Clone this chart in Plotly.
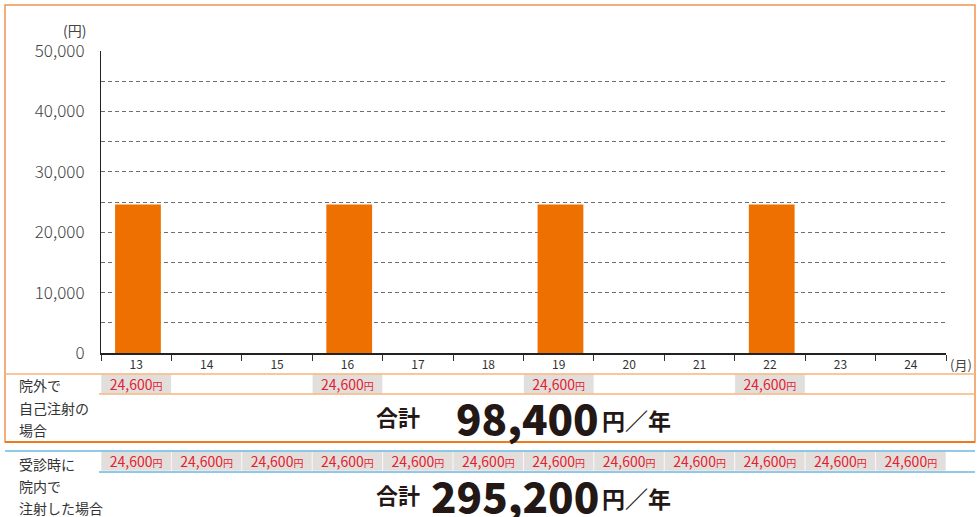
import plotly.graph_objects as go

W, H = 978, 517

# data
months = [str(m) for m in range(13, 25)]
self_inject = [24600, None, None, 24600, None, None, 24600, None, None, 24600, None, None]
clinic_inject = [24600] * 12
self_total = "98,400"
clinic_total = "295,200"

bar_values = [v if v else 0 for v in self_inject]

FONT = "Noto Sans CJK JP"
ORANGE = "#ee7000"
RED = "#e5202e"
GRAY_CELL = "#e2dedb"


def py(px):
    # pixel row from top -> paper y
    return 1 - px / H


def px_x(px):
    return px / W


def cell_text(v):
    if v is None:
        return ""
    return f"{v:,}<span style='font-size:10px'>円</span>"


fig = go.Figure()

fig.add_trace(go.Bar(
    x=months, y=bar_values, width=0.65, offset=-0.3,
    marker=dict(color=ORANGE, line=dict(width=0)),
    hoverinfo="skip", xaxis="x", yaxis="y",
))

# price rows, drawn as full-width cells on their own y axes
for vals, ax in [(self_inject, "y2"), (clinic_inject, "y3")]:
    fig.add_trace(go.Bar(
        x=months, y=[1 if v else None for v in vals], width=1.0,
        marker=dict(color=GRAY_CELL, line=dict(width=0.6, color="white")),
        text=[cell_text(v) for v in vals],
        textposition="inside", insidetextanchor="middle",
        textfont=dict(color=RED, size=14, family=FONT),
        constraintext="none", cliponaxis=False,
        hoverinfo="skip", xaxis="x", yaxis=ax,
    ))

fig.update_layout(
    template="none",
    width=W, height=H, autosize=False,
    margin=dict(l=0, r=0, t=0, b=0, pad=0, autoexpand=False),
    paper_bgcolor="white", plot_bgcolor="white",
    showlegend=False, barmode="overlay",
    font=dict(family=FONT, color="#333333"),
    xaxis=dict(
        domain=[px_x(101), px_x(946)], type="category", automargin=False,
        tickson="boundaries", ticks="outside", ticklen=6, tickcolor="#333",
        tickwidth=1, showline=True, linecolor="#222", linewidth=1.5,
        showgrid=False, tickfont=dict(size=12, color="#333"),
        anchor="y",
    ),
    yaxis=dict(
        domain=[py(353), py(51)], range=[0, 50000], automargin=False,
        tickvals=list(range(0, 50001, 10000)), tickformat=",",
        tickfont=dict(size=17, color="#444", weight=300), ticklabelstandoff=12,
        showline=True, linecolor="#222", linewidth=1.2, ticks="",
        showgrid=False, zeroline=False,
        minor=dict(tickvals=list(range(5000, 50001, 5000)), showgrid=True,
                   gridcolor="#6e6e6e", griddash="4px,3px", gridwidth=1, ticks=""),
        anchor="x",
    ),
    yaxis2=dict(domain=[py(394), py(374)], range=[0, 1], visible=False, anchor="x"),
    yaxis3=dict(domain=[py(471), py(451)], range=[0, 1], visible=False, anchor="x"),
)

shapes = []
# orange frame
shapes.append(dict(type="rect", xref="paper", yref="paper",
                   x0=px_x(5), x1=px_x(975), y0=py(442), y1=py(5),
                   line=dict(color="#f0944e", width=1.5), layer="below"))
shapes.append(dict(type="line", xref="paper", yref="paper",
                   x0=px_x(5), x1=px_x(975), y0=py(442), y1=py(442),
                   line=dict(color="#ee7a1e", width=1.8)))
for y0, x0 in [(374, 5), (394, 99)]:
    shapes.append(dict(type="line", xref="paper", yref="paper",
                       x0=px_x(x0), x1=px_x(975), y0=py(y0), y1=py(y0),
                       line=dict(color="#f6b47e", width=1.6)))
for y0, x0 in [(451, 5), (472, 99)]:
    shapes.append(dict(type="line", xref="paper", yref="paper",
                       x0=px_x(x0), x1=px_x(975), y0=py(y0), y1=py(y0),
                       line=dict(color="#6cb8e2", width=1.6)))
fig.update_layout(shapes=shapes)

ann = []


def text(x, y, s, size, anchor="left", color="#333", weight=None):
    f = dict(size=size, color=color, family=FONT)
    if weight:
        f["weight"] = weight
    ann.append(dict(xref="paper", yref="paper", x=px_x(x), y=py(y), text=s,
                    showarrow=False, xanchor=anchor, yanchor="middle", font=f))


text(88, 30, "(円)", 14, anchor="right", color="#444")
text(948, 364, "(月)", 13, color="#444")

for i, s in enumerate(["院外で", "自己注射の", "場合"]):
    text(17, 385 + i * 22.5, s, 14, color="#333")
for i, s in enumerate(["受診時に", "院内で", "注射した場合"]):
    text(17, 464 + i * 22, s, 14, color="#333")

DARK = "#231815"
for y, total in [(416, self_total), (494, clinic_total)]:
    text(398, y, "合計", 22, anchor="center", color=DARK, weight=700)
    text(601, y, total, 42, anchor="right", color=DARK, weight=900)
    text(600, y + 4, "円／年", 23, color=DARK, weight=700)

fig.update_layout(annotations=ann)

fig.write_html("out.html", config={"displayModeBar": False},
               post_script="document.body.style.margin='0';")
